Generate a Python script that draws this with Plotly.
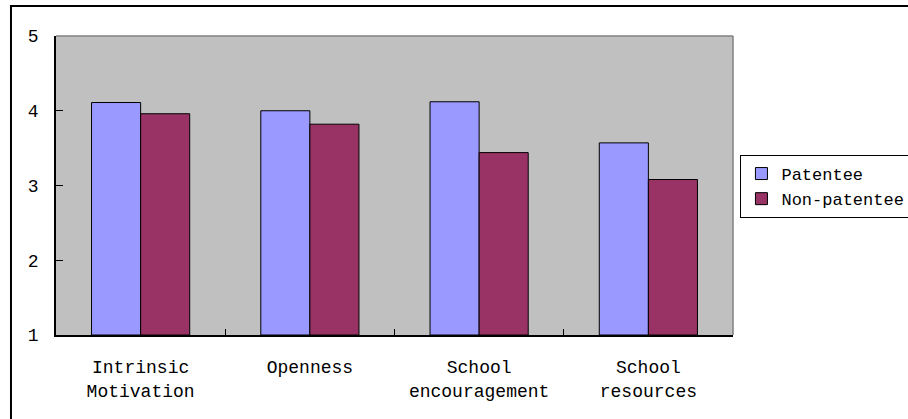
import plotly.graph_objects as go

# Mean scores per factor for the two groups
categories = ["Intrinsic<br>Motivation", "Openness", "School<br>encouragement", "School<br>resources"]
patentee = [4.11, 4.00, 4.12, 3.57]
non_patentee = [3.96, 3.82, 3.44, 3.08]
y_ticks = [1, 2, 3, 4, 5]

FONT = dict(family="Liberation Mono, DejaVu Sans Mono, monospace", size=18, color="#000000")
LEGEND_FONT = dict(FONT, size=17)

fig = go.Figure()
fig.add_trace(go.Bar(
    name="Patentee", x=categories, y=[v - 1 for v in patentee], base=1,
    marker=dict(color="#9999FF", line=dict(color="#000000", width=1)),
    hoverinfo="skip",
))
fig.add_trace(go.Bar(
    name="Non-patentee", x=categories, y=[v - 1 for v in non_patentee], base=1,
    marker=dict(color="#993366", line=dict(color="#000000", width=1)),
    hoverinfo="skip",
))

fig.update_layout(
    width=908, height=419,
    margin=dict(l=56, r=175, t=36, b=84, autoexpand=False),
    paper_bgcolor="#FFFFFF",
    plot_bgcolor="#C0C0C0",
    barmode="group", bargap=0.42, bargroupgap=0,
    font=FONT,
    showlegend=True,
    legend=dict(
        x=1.011, y=0.602, xanchor="left", yanchor="top",
        bgcolor="#FFFFFF", bordercolor="#000000", borderwidth=1,
        font=LEGEND_FONT, itemwidth=30, tracegroupgap=0,
    ),
    xaxis=dict(
        showline=True, linecolor="#000000", linewidth=1.5,
        ticks="inside", tickson="boundaries", ticklen=6, tickcolor="#000000",
        showgrid=False, zeroline=False, ticklabelstandoff=15,
        fixedrange=True, automargin=False,
    ),
    yaxis=dict(
        range=[1, 5], tickvals=y_ticks, ticktext=[str(t) for t in y_ticks],
        showline=True, linecolor="#000000", linewidth=1.5,
        ticks="inside", ticklen=7, tickcolor="#000000",
        showgrid=False, zeroline=False, ticklabelstandoff=12,
        fixedrange=True, automargin=False,
    ),
    shapes=[
        # gray frame on the top and right of the plotting area
        dict(type="line", xref="paper", yref="paper", x0=0, x1=1, y0=1, y1=1,
             line=dict(color="#808080", width=1.5)),
        dict(type="line", xref="paper", yref="paper", x0=1, x1=1, y0=0, y1=1,
             line=dict(color="#808080", width=1.5)),
        # outer chart border
        dict(type="rect", xref="paper", yref="paper", x0=-0.0665, x1=2, y0=-1, y1=1.1003,
             line=dict(color="#000000", width=2), layer="below"),
    ],
)

fig.write_html("out.html", config={"displayModeBar": False})
